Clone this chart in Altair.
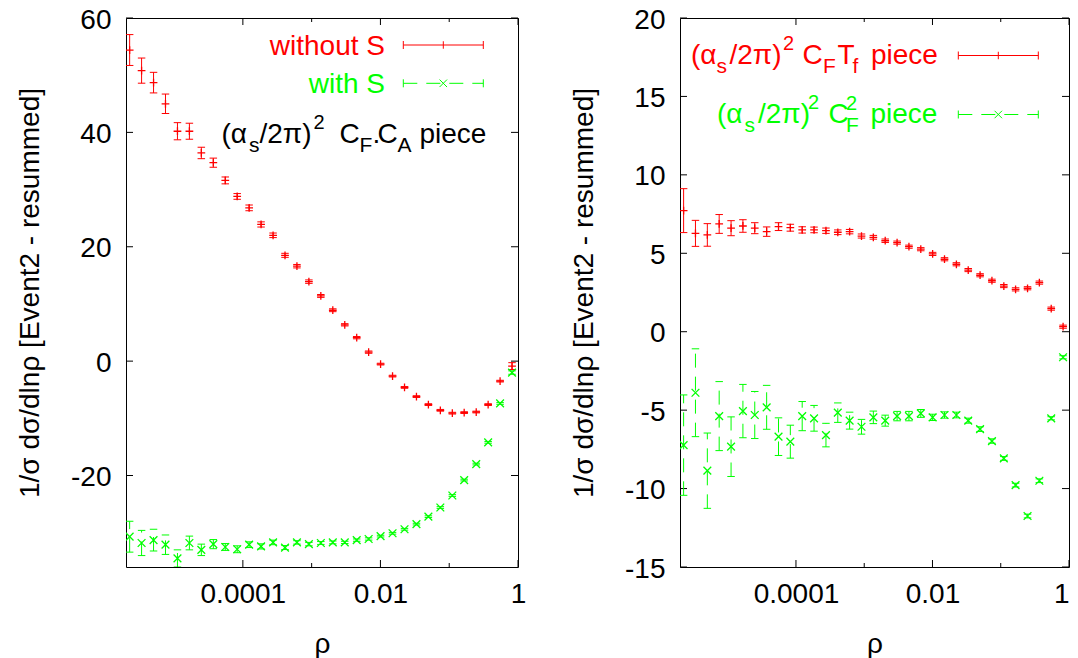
import altair as alt
import pandas as pd

# ---------------- data ----------------
rho = [2.26e-6, 3.37e-6, 5.03e-6, 7.50e-6, 1.12e-5, 1.67e-5, 2.49e-5, 3.72e-5,
       5.55e-5, 8.27e-5, 1.234e-4, 1.84e-4, 2.75e-4, 4.10e-4, 6.11e-4, 9.12e-4,
       1.36e-3, 2.03e-3, 3.03e-3, 4.52e-3, 6.74e-3, 1.005e-2, 1.50e-2, 2.24e-2,
       3.34e-2, 4.98e-2, 7.43e-2, 0.111, 0.165, 0.247, 0.368, 0.549, 0.819]

left_without = [54.4, 50.8, 48.7, 45.0, 40.2, 40.2, 36.4, 34.7, 31.6, 28.8, 26.8,
                23.9, 22.0, 18.5, 16.6, 13.9, 11.4, 8.9, 6.35, 4.1, 1.57, -0.52,
                -2.62, -4.6, -6.2, -7.6, -8.6, -9.1, -9.0, -8.9, -7.6, -3.5, -0.87]
left_without_err = [2.7, 2.2, 1.8, 1.7, 1.5, 1.4, 1.0, 0.8, 0.6, 0.5, 0.5, 0.45,
                    0.4, 0.35, 0.3, 0.3, 0.25, 0.25, 0.2, 0.2, 0.2, 0.15, 0.15,
                    0.15, 0.15, 0.15, 0.15, 0.15, 0.15, 0.15, 0.15, 0.15, 0.6]
left_with = [-30.7, -31.8, -31.3, -32.1, -34.5, -31.8, -33.0, -32.0, -32.5, -32.9,
             -32.1, -32.4, -31.7, -32.6, -31.7, -32.0, -31.8, -31.7, -31.7, -31.3,
             -31.1, -30.6, -30.1, -29.4, -28.5, -27.2, -25.6, -23.5, -20.8, -18.0,
             -14.2, -7.4, -2.0]
left_with_err = [2.7, 2.2, 1.9, 1.7, 1.5, 1.2, 1.0, 0.8, 0.6, 0.6, 0.5, 0.45, 0.4,
                 0.35, 0.3, 0.3, 0.25, 0.25, 0.2, 0.2, 0.2, 0.15, 0.15, 0.15, 0.15,
                 0.15, 0.15, 0.15, 0.15, 0.15, 0.15, 0.15, 0.3]

right_tf = [7.72, 6.27, 6.17, 6.87, 6.6, 6.74, 6.6, 6.38, 6.70, 6.63, 6.49, 6.49,
            6.44, 6.34, 6.38, 6.10, 6.02, 5.80, 5.68, 5.42, 5.26, 4.96, 4.62, 4.30,
            3.93, 3.60, 3.25, 2.91, 2.70, 2.77, 3.13, 1.47, 0.32]
right_tf_err = [1.4, 0.83, 0.72, 0.6, 0.48, 0.4, 0.35, 0.3, 0.25, 0.22, 0.2, 0.18,
                0.17, 0.15, 0.14, 0.13, 0.12, 0.11, 0.1, 0.1, 0.1, 0.1, 0.1, 0.1,
                0.1, 0.1, 0.1, 0.1, 0.1, 0.1, 0.1, 0.1, 0.1]
right_cf2 = [-7.23, -3.89, -8.86, -5.38, -7.33, -5.06, -5.31, -4.82, -6.69, -7.01,
             -5.38, -5.52, -6.59, -5.16, -5.67, -6.06, -5.46, -5.67, -5.38, -5.38,
             -5.21, -5.46, -5.31, -5.31, -5.67, -6.21, -6.97, -8.08, -9.78, -11.75,
             -9.5, -5.52, -1.63]
right_cf2_err = [3.2, 2.8, 2.4, 2.2, 1.9, 1.7, 1.5, 1.4, 1.2, 1.05, 0.93, 0.82, 0.75,
                 0.62, 0.54, 0.47, 0.4, 0.35, 0.3, 0.3, 0.25, 0.2, 0.2, 0.18, 0.16,
                 0.15, 0.14, 0.12, 0.12, 0.12, 0.12, 0.1, 0.1]

left_yticks = [-20, 0, 20, 40, 60]
right_yticks = [-15, -10, -5, 0, 5, 10, 15, 20]
x_major = [1e-4, 1e-2, 1]
x_minor = [1e-3, 1e-1]

# ---------------- style ----------------
RED = "#ff0000"
GREEN = "#00ff00"
FONT = "Liberation Sans"
H = 549
FS = 28
SUB = 21
SUP = 20
PLUS = "M-1,0L1,0M0,-1L0,1"
CROSS = "M-1,-1L1,1M-1,1L1,-1"
HBAR = "M-1,0L1,0"
VBAR = "M0,-1L0,1"
DASH = [14, 9]
YTITLE = "1/σ dσ/dlnρ [Event2 - resummed]"

xscale = alt.Scale(type="log", domain=[2e-6, 1], nice=False)
one = pd.DataFrame({"a": [0]})


class Panel:
    def __init__(self, width, domain, yticks, flush):
        self.W = width
        self.ys = alt.Scale(domain=domain, nice=False, zero=False)
        self.ya = alt.Axis(values=yticks, title=YTITLE, labelPadding=15,
                           titlePadding=26, labelOffset=2,
                           labelExpr="'' + datum.value")
        self.xa = alt.Axis(values=x_major, format="~g", title="ρ", labelPadding=13,
                           titlePadding=22, labelFlush=flush)
        self.yticks = yticks

    def x(self, field):
        return alt.X(field, type="quantitative", scale=xscale, axis=self.xa)

    def y(self, field):
        return alt.Y(field, type="quantitative", scale=self.ys, axis=self.ya)

    def series(self, vals, errs, color, shape, dashed):
        df = pd.DataFrame({"rho": rho, "v": vals, "e": errs})
        base = alt.Chart(df).transform_calculate(lo="datum.v - datum.e",
                                                 hi="datum.v + datum.e")
        rule_kw = dict(color=color, strokeWidth=1, clip=True)
        if dashed:
            rule_kw["strokeDash"] = DASH
        pkw = dict(filled=False, color=color, opacity=1, clip=True)
        return [
            base.mark_rule(**rule_kw).encode(x=self.x("rho"), y=self.y("lo"), y2="hi:Q"),
            base.mark_point(shape=HBAR, size=56, strokeWidth=1, **pkw).encode(
                x=self.x("rho"), y=self.y("lo")),
            base.mark_point(shape=HBAR, size=56, strokeWidth=1, **pkw).encode(
                x=self.x("rho"), y=self.y("hi")),
            base.mark_point(shape=shape, size=60, strokeWidth=1.3, **pkw).encode(
                x=self.x("rho"), y=self.y("v")),
        ]

    def ticks(self):
        W = self.W
        ydf = pd.DataFrame({"t": self.yticks})
        xmaj = pd.DataFrame({"t": x_major})
        xmin = pd.DataFrame({"t": x_minor})
        k = dict(color="black", strokeWidth=1)
        return [
            alt.Chart(ydf).mark_rule(**k).encode(y=self.y("t"), x=alt.value(0), x2=alt.value(7)),
            alt.Chart(ydf).mark_rule(**k).encode(y=self.y("t"), x=alt.value(W - 7), x2=alt.value(W)),
            alt.Chart(xmaj).mark_rule(**k).encode(x=self.x("t"), y=alt.value(H - 7), y2=alt.value(H)),
            alt.Chart(xmaj).mark_rule(**k).encode(x=self.x("t"), y=alt.value(0), y2=alt.value(7)),
            alt.Chart(xmin).mark_rule(**k).encode(x=self.x("t"), y=alt.value(H - 4), y2=alt.value(H)),
            alt.Chart(xmin).mark_rule(**k).encode(x=self.x("t"), y=alt.value(0), y2=alt.value(4)),
        ]


def txt(s, x, y, size, color, align="left"):
    return alt.Chart(one).mark_text(text=s, fontSize=size, color=color, font=FONT,
                                    align=align, baseline="alphabetic").encode(
        x=alt.value(x), y=alt.value(y))


def legend_sample(x0, x1, y, color, shape, dashed):
    xm = (x0 + x1) / 2
    kw = dict(color=color, strokeWidth=1)
    if dashed:
        kw["strokeDash"] = DASH
    return [
        alt.Chart(one).mark_rule(**kw).encode(x=alt.value(x0), x2=alt.value(x1), y=alt.value(y)),
        alt.Chart(one).mark_rule(color=color, strokeWidth=1).encode(
            x=alt.value(x0), y=alt.value(y - 4), y2=alt.value(y + 4)),
        alt.Chart(one).mark_rule(color=color, strokeWidth=1).encode(
            x=alt.value(x1), y=alt.value(y - 4), y2=alt.value(y + 4)),
        alt.Chart(one).mark_point(shape=shape, size=56, filled=False, color=color,
                                  strokeWidth=1, opacity=1).encode(
            x=alt.value(xm), y=alt.value(y)),
    ]


# ---------------- left panel ----------------
LX, LY, LW = 126, 18, 392
P = Panel(LW, [-36, 60], left_yticks, False)
lb, ls, lp = 142.5 - LY, 151.5 - LY, 128.5 - LY
left_layers = (P.ticks()
               + P.series(left_without, left_without_err, RED, PLUS, False)
               + P.series(left_with, left_with_err, GREEN, CROSS, True)
               + [txt("without S", 385 - LX, 55 - LY, FS, RED, "right"),
                  txt("with S", 385 - LX, 92.7 - LY, FS, GREEN, "right")]
               + legend_sample(403.3 - LX, 483.3 - LX, 45 - LY, RED, VBAR, False)
               + legend_sample(403.3 - LX, 483.3 - LX, 83.3 - LY, GREEN, CROSS, True)
               + [txt("(α", 221.5 - LX, lb, FS, "black"),
                  txt("s", 249 - LX, ls, SUB, "black"),
                  txt("/2π)", 259.5 - LX, lb, FS, "black"),
                  txt("2", 313.5 - LX, lp, SUP, "black"),
                  txt("C", 339.5 - LX, lb, FS, "black"),
                  txt("F", 359.5 - LX, ls, SUB, "black"),
                  txt(".", 372.5 - LX, lb, FS, "black"),
                  txt("C", 377.5 - LX, lb, FS, "black"),
                  txt("A", 397.5 - LX, ls, SUB, "black"),
                  txt("piece", 419.5 - LX, lb, FS, "black")])
left = alt.layer(*left_layers).properties(width=LW, height=H)

# ---------------- right panel ----------------
RX, RY, RW = 680, 18, 389
Q = Panel(RW, [-15, 20], right_yticks, True)
rb, rs, rp = 64 - RY, 73 - RY, 50 - RY
gb, gs, gp = 122.5 - RY, 131.5 - RY, 108.5 - RY
right_layers = (Q.ticks()
                + Q.series(right_tf, right_tf_err, RED, PLUS, False)
                + Q.series(right_cf2, right_cf2_err, GREEN, CROSS, True)
                + [txt("(α", 691 - RX, rb, FS, RED),
                   txt("s", 716.5 - RX, rs, SUB, RED),
                   txt("/2π)", 729.5 - RX, rb, FS, RED),
                   txt("2", 783 - RX, rp, SUP, RED),
                   txt("C", 802.5 - RX, rb, FS, RED),
                   txt("F", 823 - RX, rs, SUB, RED),
                   txt("T", 837.5 - RX, rb, FS, RED),
                   txt("f", 852.5 - RX, rs, SUB, RED),
                   txt("piece", 871 - RX, rb, FS, RED)]
                + [txt("(α", 717 - RX, gb, FS, GREEN),
                   txt("s", 744.5 - RX, gs, SUB, GREEN),
                   txt("/2π)", 758 - RX, gb, FS, GREEN),
                   txt("2", 808 - RX, gp, SUP, GREEN),
                   txt("C", 828.5 - RX, gb, FS, GREEN),
                   txt("2", 846 - RX, gp + 1, SUP, GREEN),
                   txt("F", 846 - RX, gs, SUB, GREEN),
                   txt("piece", 870.5 - RX, gb, FS, GREEN)]
                + legend_sample(958.3 - RX, 1038.3 - RX, 55.5 - RY, RED, VBAR, False)
                + legend_sample(958.3 - RX, 1038.3 - RX, 114.5 - RY, GREEN, CROSS, True))
right = alt.layer(*right_layers).properties(width=RW, height=H)

SVG_W, SVG_H = 1062, 650
chart = alt.hconcat(left, right, spacing=RX - LX - LW, bounds="flush").properties(
    autosize=alt.AutoSizeParams(type="none"),
    padding={"left": LX - 8, "top": LY - 8, "right": SVG_W - (LX - 8),
             "bottom": SVG_H - (LY - 8)},
    background="white",
).configure_view(stroke="black", strokeWidth=1).configure_axis(
    labelFont=FONT, labelFontSize=FS, labelColor="black",
    titleFont=FONT, titleFontSize=FS, titleFontWeight="normal", titleColor="black",
    ticks=False, domain=False, grid=False,
)

chart.save("out.html", embed_options={"renderer": "svg", "actions": False})
